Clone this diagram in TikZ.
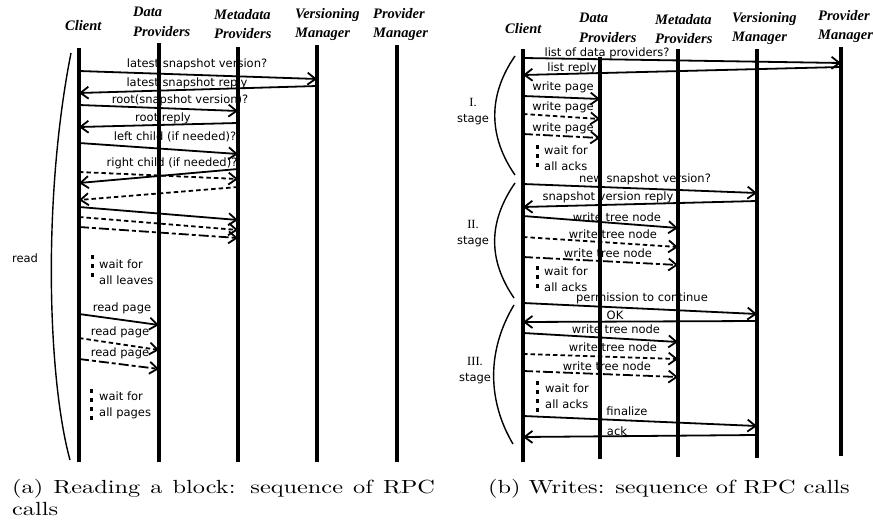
\documentclass[tikz,border=0pt]{standalone}
\usepackage{fontspec}
\usepackage{graphicx}
\newfontfamily\hdfont{Liberation Serif}
\newfontfamily\lblfont{DejaVu Sans}
\usetikzlibrary{arrows.meta}
\tikzset{
  life/.style={line width=3.6pt},                                    % lifeline
  msg/.style={-{Straight Barb[length=8pt,width=12pt]},line width=1.8pt}, % call / reply
  msgd/.style={msg,dash pattern=on 4.5pt off 3pt},
  msgdd/.style={msg,dash pattern=on 10pt off 3pt on 4pt off 3pt},
  waitmk/.style={line width=3pt,dash pattern=on 4pt off 5pt},         % "wait" dots
  hd/.style={font=\hdfont\bfseries\itshape\fontsize{14.5}{19.5}\selectfont,
    align=left,inner sep=0pt,anchor=north west},
  lbl/.style={font=\lblfont\fontsize{11.5}{16}\selectfont,inner sep=0pt},
  brkt/.style={line width=1.4pt},
  stg/.style={lbl,align=center},
}
\begin{document}
\begin{tikzpicture}[x=1pt,y=-1pt]
  \useasboundingbox (0,0) rectangle (873,529);
  % lifelines of both diagrams
  \foreach \n/\x/\t/\b in {aC/79/48/462,aD/159/43/462,aM/238/47/462,aV/317/45/462,aP/397/45/462,
    bC/523/49/462,bD/600/57/459,bM/678/49/457,bV/757/49/458,bP/841/47/456}{
    \coordinate (\n) at (\x,\t);
    \coordinate (\n-end) at (\x,\b);
    \draw[life] (\n) -- (\n-end);
  }
  % headers (a)
  \node[hd] (haC) at (65,20) {Client};
  \node[hd] (haD) at (133,7) {Data\\Providers};
  \node[hd] (haM) at (214,9) {Metadata\\Providers};
  \node[hd] (haV) at (295,8) {Versioning\\Manager};
  \node[hd] (haP) at (373,8) {Provider\\Manager};
  % headers (b)
  \node[hd] (hbC) at (505,23) {Client};
  \node[hd] (hbD) at (579,13) {Data\\Providers};
  \node[hd] (hbM) at (655,14) {Metadata\\Providers};
  \node[hd] (hbV) at (732,12) {Versioning\\Manager};
  \node[hd] (hbP) at (818,10) {Provider\\Manager};
  % (a) reading
  \foreach \a/\ya/\b/\yb/\s in {aC/71/aV/79/msg,aV/86/aC/93/msg,aC/105/aM/111/msg,
    aM/123/aC/127/msg,aC/143/aM/154/msg,aC/172/aM/179/msgd,aM/169/aC/183/msg,
    aM/187/aC/200/msgd,aC/207/aM/220/msg,aC/217/aM/230/msgd,aC/227/aM/238/msgdd,
    aC/314/aD/325/msg,aC/338/aD/350/msgd,aC/359/aD/369/msgdd}
    \draw[\s] (\a|-0,\ya) -- (\b|-0,\yb);
  \foreach \i/\x/\y/\t in {1/197/64/latest snapshot version?,2/187/83/latest snapshot reply,
    3/180/100/root(snapshot version)?,4/163/118/root reply,5/175/137/left child (if needed)?,
    6/172/163/right child (if needed)?,7/122/308/read page,8/120/332/read page,9/120/353/read page}
    \node[lbl] (la\i) at (\x,\y) {\t};
  \draw[waitmk] (92,255) -- (92,279);
  \node[lbl,align=left,anchor=west] (wa1) at (99,272) {wait for\\all leaves};
  \draw[waitmk] (91,389) -- (91,422);
  \node[lbl,align=left,anchor=west] (wa2) at (99,405) {wait for\\all pages};
  \draw[brkt] (71,53) .. controls (42,200) and (48,380) .. (70,460);
  \node[lbl] (rd) at (25,258) {read};
  % (b) writes
  \foreach \a/\ya/\b/\yb/\s in {bC/58/bP/63/msg,bP/67/bC/75/msg,bC/96/bD/99/msg,
    bC/114/bD/119/msgd,bC/134/bD/138/msgdd,bC/184/bV/193/msg,bV/201/bC/207/msg,
    bC/216/bM/228/msg,bC/237/bM/247/msgd,bC/257/bM/265/msgdd,bC/303/bV/314/msg,
    bV/321/bC/322/msg,bC/333/bM/342/msg,bC/354/bM/359/msgd,bC/371/bM/377/msgdd,
    bC/416/bV/426/msg,bV/435/bC/437/msg}
    \draw[\s] (\a|-0,\ya) -- (\b|-0,\yb);
  \foreach \i/\x/\y/\t in {1/607/53/list of data providers?,2/572/68/list reply,
    3/563/87/write page,4/563/107/write page,5/563/128/write page,
    6/645/179/new snapshot version?,7/608/197/snapshot version reply,
    8/617/217/write tree node,9/613/234/write tree node,10/608/253/write tree node,
    11/642/298/permission to continue,12/615/315/OK,13/616/329/write tree node,
    14/613/347/write tree node,15/607/366/write tree node,16/627/411/finalize,17/617/431/ack}
    \node[lbl] (lb\i) at (\x,\y) {\t};
  \draw[waitmk] (537,145) -- (537,169);
  \node[lbl,align=left,anchor=west] (wb1) at (544,158) {wait for\\all acks};
  \draw[waitmk] (537,266) -- (537,290);
  \node[lbl,align=left,anchor=west] (wb2) at (544,279) {wait for\\all acks};
  \draw[waitmk] (537,381) -- (537,413);
  \node[lbl,align=left,anchor=west] (wb3) at (545,396) {wait for\\all acks};
  % stages
  \draw[brkt] (515,56) .. controls (488,95) and (488,136) .. (515,175);
  \draw[brkt] (515,183) .. controls (488,222) and (488,260) .. (514,298);
  \draw[brkt] (514,305) .. controls (487,350) and (487,400) .. (513,444);
  \node[stg] (s1) at (473,112) {{\hdfont\fontsize{12.5}{16}\selectfont I.}\\stage};
  \node[stg] (s2) at (473,234) {{\hdfont\fontsize{12.5}{16}\selectfont II.}\\stage};
  \node[stg] (s3) at (475,371) {{\hdfont\fontsize{12.5}{16}\selectfont III.}\\stage};
  % captions
  \node[anchor=base west,inner sep=0pt] (capa) at (12,493)
    {\scalebox{2.43}[1.9]{\parbox[t]{174pt}{(a) Reading a block: sequence of RPC calls}}};
  \node[anchor=base west,inner sep=0pt] (capb) at (488,493)
    {\scalebox{2.43}[1.9]{(b) Writes: sequence of RPC calls}};
\end{tikzpicture}
\end{document}
